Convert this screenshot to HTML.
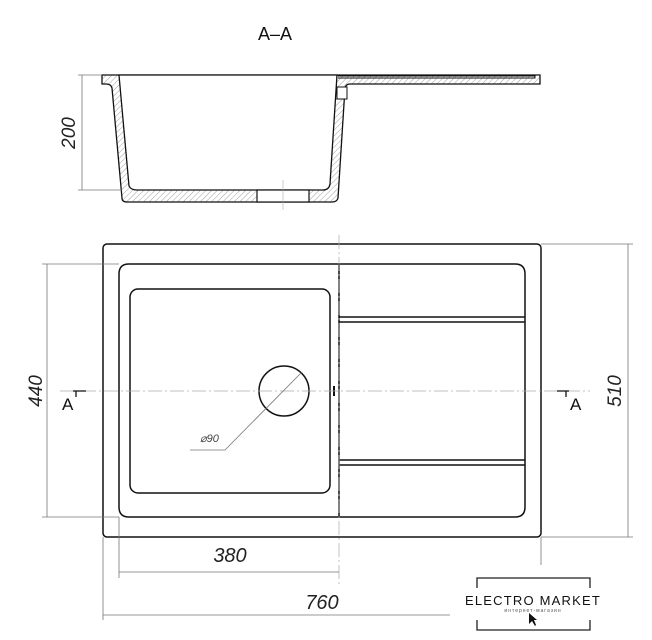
<!DOCTYPE html>
<html><head><style>
body{margin:0;background:#fff;}
svg{display:block;}
text{font-family:"Liberation Sans",sans-serif;}
</style></head><body>
<svg width="652" height="640" viewBox="0 0 652 640" xmlns="http://www.w3.org/2000/svg">
<defs>
<pattern id="h" width="4" height="4" patternUnits="userSpaceOnUse" patternTransform="rotate(45)">
<line x1="0" y1="0" x2="0" y2="4" stroke="#888" stroke-width="0.8"/>
</pattern>
</defs>
<text x="275" y="40" font-size="18" text-anchor="middle" fill="#111">A–A</text>
<g stroke="#111" stroke-width="1.3" fill="url(#h)">
<path d="M102,75 L540,75 L540,84 L350,84 Q346,84 345,88 L338,198 Q337,202 332,202 L127,202 Q122,202 122,198 L112,88 Q111,84 106,84 L102,84 Z"/>
<path d="M119,75 L129,186 Q131,190 137,190 L323,190 Q329,190 330,184 L337,75 Z" fill="#fff"/>
<path d="M338,76 L535,76 L535,78 L338,78" fill="none" stroke-width="1"/>
</g>
<rect x="257" y="190" width="52" height="12" fill="#fff" stroke="#111" stroke-width="1.2"/>
<rect x="337" y="87" width="10" height="12" fill="#fff" stroke="#111" stroke-width="1"/>
<line x1="283" y1="180" x2="283" y2="210" stroke="#aaa" stroke-width="0.6"/>
<g stroke="#777" stroke-width="0.8">
<line x1="82" y1="75" x2="82" y2="190"/>
<line x1="78" y1="75" x2="102" y2="75"/>
<line x1="78" y1="190" x2="122" y2="190"/>
</g>
<text transform="translate(75,133) rotate(-90)" font-size="19" font-style="italic" text-anchor="middle" fill="#222">200</text>
<g stroke="#111" stroke-width="1.5" fill="none">
<rect x="103" y="244" width="438" height="293" rx="4"/>
<path d="M339,264 L515,264 Q525,264 525,274 L525,507 Q525,517 515,517 L339,517 M339,264 L129,264 Q119,264 119,274 L119,507 Q119,517 129,517 L339,517 M339,264 L339,517"/>
<rect x="130" y="289" width="200" height="204" rx="8"/>
<circle cx="284" cy="391" r="25"/>
<path d="M339,317 L525,317 M339,322 L525,322 M339,460 L525,460 M339,465 L525,465"/>
<line x1="334" y1="386" x2="334" y2="396" stroke-width="2"/>
</g>
<g stroke="#aaa" stroke-width="0.7" stroke-dasharray="14,3,2,3" fill="none">
<line x1="60" y1="391" x2="590" y2="391"/>
<line x1="339" y1="235" x2="339" y2="585"/>
</g>
<g stroke="#777" stroke-width="0.8" fill="none">
<line x1="302" y1="372" x2="225" y2="450"/>
<line x1="225" y1="450" x2="190" y2="450"/>
<line x1="47" y1="264" x2="47" y2="517"/>
<line x1="42" y1="264" x2="119" y2="264"/>
<line x1="42" y1="517" x2="119" y2="517"/>
<line x1="628" y1="244" x2="628" y2="537"/>
<line x1="541" y1="244" x2="633" y2="244"/>
<line x1="541" y1="537" x2="633" y2="537"/>
<line x1="119" y1="517" x2="119" y2="578"/>
<line x1="119" y1="572" x2="339" y2="572"/>
<line x1="103" y1="537" x2="103" y2="620"/>
<line x1="103" y1="615" x2="450" y2="615"/>
<line x1="541" y1="537" x2="541" y2="565"/>
</g>
<text x="200" y="442" font-size="11" font-style="italic" fill="#444">⌀90</text>
<text x="230" y="562" font-size="20" font-style="italic" text-anchor="middle" fill="#222">380</text>
<text x="322" y="609" font-size="20" font-style="italic" text-anchor="middle" fill="#222">760</text>
<text transform="translate(42,391) rotate(-90)" font-size="19" font-style="italic" text-anchor="middle" fill="#222">440</text>
<text transform="translate(621,391) rotate(-90)" font-size="19" font-style="italic" text-anchor="middle" fill="#222">510</text>
<text x="62" y="410" font-size="17" fill="#111">A</text>
<path d="M76,391 L76,397 M73,391 L86,391" stroke="#111" stroke-width="1.3" fill="none"/>
<text x="570" y="410" font-size="17" fill="#111">A</text>
<path d="M566,391 L566,397 M557,391 L569,391" stroke="#111" stroke-width="1.3" fill="none"/>
<path d="M477,588 L477,578 L590,578 L590,588 M477,620 L477,630 L590,630 L590,620" stroke="#222" stroke-width="1.3" fill="none"/>
<text x="533" y="605" font-size="13" letter-spacing="1.2" text-anchor="middle" fill="#111">ELECTRO MARKET</text>
<text x="533" y="612" font-size="5" letter-spacing="1" text-anchor="middle" fill="#555">интернет-магазин</text>
<path d="M529,613 L529,624 L532,621 L535,626 L536,625 L534,620 L537,620 Z" fill="#111"/>
</svg>
</body></html>
